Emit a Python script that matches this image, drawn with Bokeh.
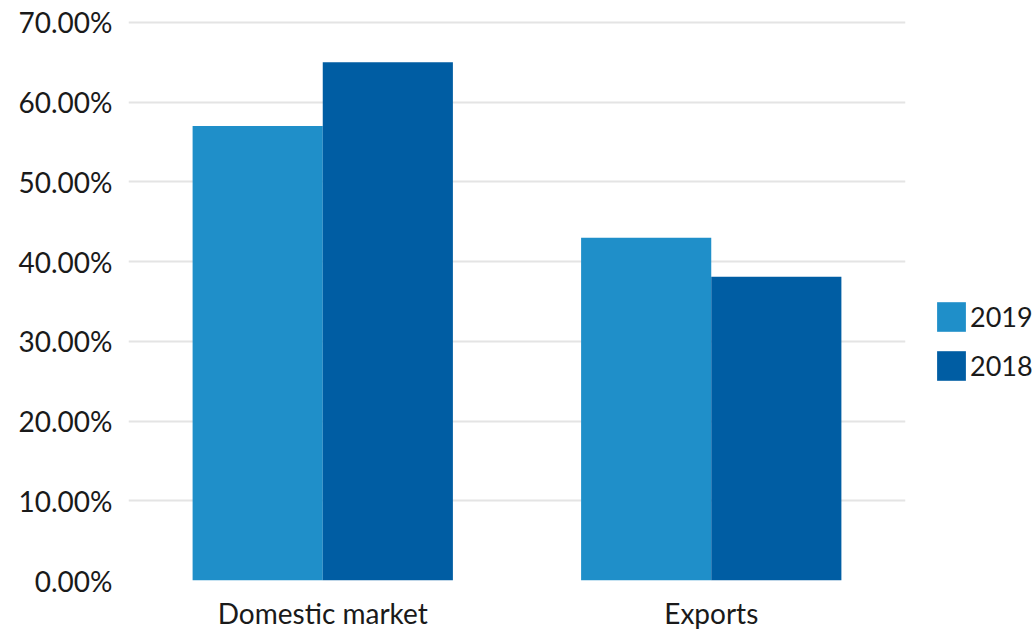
from bokeh.plotting import figure
from bokeh.layouts import row
from bokeh.models import FactorRange, Range1d, FixedTicker, PrintfTickFormatter, Legend, LegendItem
from bokeh.transform import dodge
from bokeh.models import ColumnDataSource
from bokeh.embed import file_html
from bokeh.resources import INLINE

categories = ["Domestic market", "Exports"]
series_2019 = [57.0, 43.0]
series_2018 = [65.0, 38.1]
series_names = ["2019", "2018"]
series_colors = ["#1F8FC9", "#005DA3"]
y_ticks = [0, 10, 20, 30, 40, 50, 60, 70]

src = ColumnDataSource(dict(cat=categories, y2019=series_2019, y2018=series_2018))

p = figure(width=933, height=632, x_range=FactorRange(*categories), y_range=Range1d(0, 70.25),
           output_backend="svg", toolbar_location=None,
           min_border_left=128, min_border_right=28, min_border_top=20, min_border_bottom=51)
p.outline_line_color = None
p.background_fill_color = "white"
p.border_fill_color = "white"

p.vbar(x=dodge("cat", -0.1675, range=p.x_range), top="y2019", width=0.335, source=src,
       fill_color=series_colors[0], line_color=None)
p.vbar(x=dodge("cat", 0.1675, range=p.x_range), top="y2018", width=0.335, source=src,
       fill_color=series_colors[1], line_color=None)

p.xgrid.grid_line_color = None
p.ygrid.grid_line_color = "#e4e4e4"
p.ygrid.grid_line_width = 2
p.yaxis.ticker = FixedTicker(ticks=y_ticks)
p.yaxis.formatter = PrintfTickFormatter(format="%.2f%%")
for ax in (p.xaxis[0], p.yaxis[0]):
    ax.axis_line_color = None
    ax.major_tick_line_color = None
    ax.minor_tick_line_color = None
    ax.major_tick_out = 0
    ax.major_tick_in = 0
    ax.major_label_text_font = "Lato"
    ax.major_label_text_font_size = "28px"
    ax.major_label_text_color = "#1a1a1a"
p.yaxis.major_label_standoff = 16
p.xaxis.major_label_standoff = 15

# legend panel (same series, drawn out of view so only the legend shows)
lg = figure(width=103, height=632, x_range=FactorRange(*categories), y_range=Range1d(100, 101),
            output_backend="svg", toolbar_location=None,
            min_border_left=0, min_border_right=0, min_border_top=0, min_border_bottom=0)
lg.axis.visible = False
lg.grid.visible = False
lg.outline_line_color = None
lg.border_fill_color = "white"
lg.background_fill_color = "white"
items = []
for name, col, key in zip(series_names, series_colors, ["y2019", "y2018"]):
    r = lg.vbar(x=dodge("cat", 10, range=lg.x_range), top=key, width=0.3, source=src,
                fill_color=col, line_color=None)
    items.append(LegendItem(label=name, renderers=[r]))

legend = Legend(items=items, location=(0, 196), glyph_width=36, glyph_height=37, label_standoff=1,
                spacing=12, padding=0, margin=0, border_line_color=None, background_fill_alpha=0,
                label_text_font="Lato", label_text_font_size="27px", label_text_color="#1a1a1a",
                label_height=37)
lg.add_layout(legend, "center")

layout = row(p, lg, spacing=0)
open("out.html", "w").write(file_html(layout, INLINE))
